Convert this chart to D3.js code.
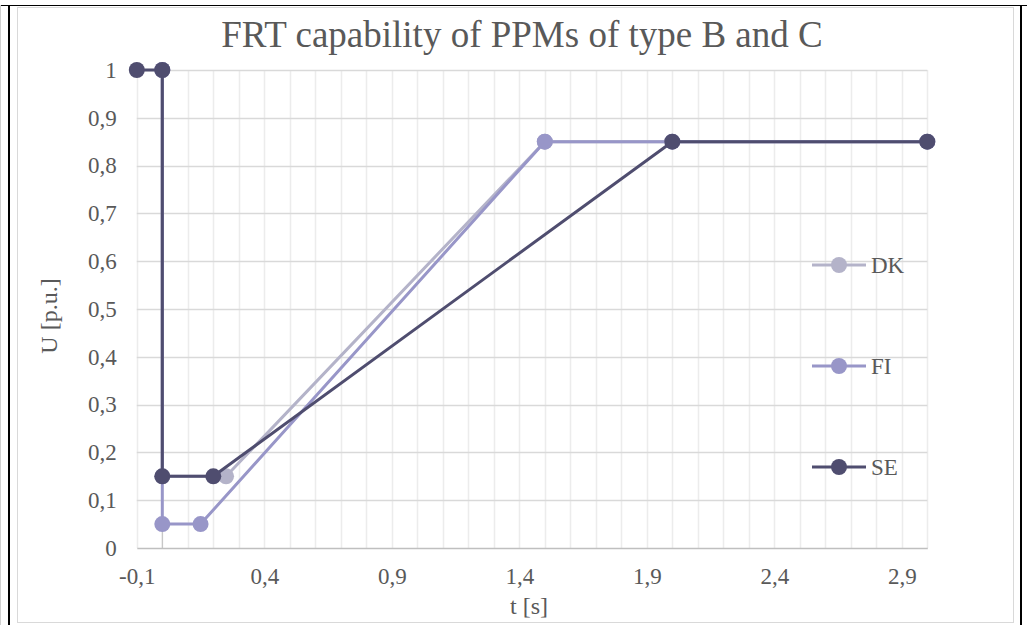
<!DOCTYPE html>
<meta charset="utf-8">
<script src="https://d3js.org/d3.v7.min.js"></script>
<style>
  body { margin: 0; background: #fff; }
  text { font-family: "Liberation Serif", "Times New Roman", serif; fill: #595959; }
</style>
<svg id="frt_chart" width="1027" height="625"></svg>
<script>

// series data, [t (s), U (p.u.)]
var seriesNames = ["DK", "FI", "SE"];
var dkPoints = [[0, 1], [0, 0.15], [0.25, 0.15], [1.5, 0.85], [3, 0.85]];
var fiPoints = [[0, 1], [0, 0.05], [0.15, 0.05], [1.5, 0.85], [2, 0.85], [3, 0.85]];
var sePoints = [[-0.1, 1], [0, 1], [0, 0.15], [0.2, 0.15], [2, 0.85], [3, 0.85]];
var xTickLabels = [-0.1, 0.4, 0.9, 1.4, 1.9, 2.4, 2.9];
var yTickLabels = [0, 0.1, 0.2, 0.3, 0.4, 0.5, 0.6, 0.7, 0.8, 0.9, 1];

var colors = {DK: "#b4b3c9", FI: "#9896c8", SE: "#4f4d6f"};
var allSeries = [
  {name: "DK", points: dkPoints},
  {name: "FI", points: fiPoints},
  {name: "SE", points: sePoints}
];

var svg = d3.select("#frt_chart");

// word table cell borders around the chart
svg.append("line").attr("x1", 0).attr("x2", 1027).attr("y1", 5.5).attr("y2", 5.5)
  .attr("stroke", "#000").attr("stroke-width", 1);
svg.append("line").attr("x1", 0.5).attr("x2", 0.5).attr("y1", 5).attr("y2", 625)
  .attr("stroke", "#d0d0d0").attr("stroke-width", 1);
svg.append("line").attr("x1", 9).attr("x2", 9).attr("y1", 5).attr("y2", 625)
  .attr("stroke", "#000").attr("stroke-width", 2);
svg.append("line").attr("x1", 1021).attr("x2", 1021).attr("y1", 5).attr("y2", 625)
  .attr("stroke", "#000").attr("stroke-width", 2);

// chart area border
svg.append("rect").attr("x", 17.5).attr("y", 7.5).attr("width", 996).attr("height", 615)
  .attr("fill", "#fff").attr("stroke", "#d9d9d9").attr("stroke-width", 1);

// scales
var x = d3.scaleLinear().domain([-0.1, 3.0]).range([136.8, 927.3]);
var y = d3.scaleLinear().domain([0, 1]).range([548, 70]);

// excel style labels: comma decimal, plain hyphen for minus
var fmt = function(v) { return d3.format(".1~f")(v).replace(".", ",").replace("\u2212", "-"); };

// gridlines: minor vertical every 0.1, horizontal every 0.1
var grid = svg.append("g");
grid.selectAll(".vgrid")
  .data(d3.range(0, 32).map(function(i) { return -0.1 + i * 0.1; }))
  .enter().append("line")
    .attr("x1", function(d) { return Math.round(x(d)) + 0.5; })
    .attr("x2", function(d) { return Math.round(x(d)) + 0.5; })
    .attr("y1", y(1)).attr("y2", y(0))
    .attr("stroke", "#ececec").attr("stroke-width", 1.5);
grid.selectAll(".hgrid")
  .data(yTickLabels.slice(1))
  .enter().append("line")
    .attr("x1", x(-0.1)).attr("x2", x(3.0))
    .attr("y1", function(d) { return Math.round(y(d)) + 0.5; })
    .attr("y2", function(d) { return Math.round(y(d)) + 0.5; })
    .attr("stroke", "#d9d9d9").attr("stroke-width", 1.5);

// vertical axis line crosses at t = 0
svg.append("line")
  .attr("x1", x(0)).attr("x2", x(0)).attr("y1", y(0)).attr("y2", y(1))
  .attr("stroke", "#bfbfbf").attr("stroke-width", 1);

// x axis
var xAxis = svg.append("g")
  .attr("transform", "translate(0," + y(0) + ")")
  .call(d3.axisBottom(x).tickValues(xTickLabels).tickSize(0).tickPadding(20).tickFormat(fmt));
xAxis.select(".domain").attr("stroke", "#bfbfbf").attr("stroke-width", 1.5);
xAxis.selectAll("text")
  .style("font-family", "Liberation Serif").style("font-size", "23px").attr("fill", "#595959");

// y axis (labels at low position)
var yAxis = svg.append("g")
  .attr("transform", "translate(" + x(-0.1) + ",0)")
  .call(d3.axisLeft(y).tickValues(yTickLabels).tickSize(0).tickPadding(20).tickFormat(fmt));
yAxis.select(".domain").remove();
yAxis.selectAll("text")
  .style("font-family", "Liberation Serif").style("font-size", "23px").attr("fill", "#595959");

// series lines and markers
var line = d3.line()
  .x(function(d) { return x(d[0]); })
  .y(function(d) { return y(d[1]); });

allSeries.forEach(function(s) {
  svg.append("path")
    .datum(s.points)
    .attr("fill", "none")
    .attr("stroke", colors[s.name])
    .attr("stroke-width", 3)
    .attr("stroke-linejoin", "round")
    .attr("d", line);
  svg.append("g").selectAll("circle")
    .data(s.points)
    .enter().append("circle")
      .attr("cx", function(d) { return x(d[0]); })
      .attr("cy", function(d) { return y(d[1]); })
      .attr("r", 8)
      .attr("fill", colors[s.name]);
});

// legend
var legendY = {DK: 265, FI: 366, SE: 467};
var legend = svg.append("g");
seriesNames.forEach(function(name) {
  var g = legend.append("g").attr("transform", "translate(812," + legendY[name] + ")");
  g.append("line").attr("x1", 0).attr("x2", 54).attr("y1", 0).attr("y2", 0)
    .attr("stroke", colors[name]).attr("stroke-width", 3);
  g.append("circle").attr("cx", 27).attr("cy", 0).attr("r", 8).attr("fill", colors[name]);
  g.append("text")
    .attr("x", 59).attr("y", 8)
    .style("font-size", "23px")
    .text(name);
});

// title and axis titles
svg.append("text")
  .attr("x", 522).attr("y", 47)
  .attr("text-anchor", "middle")
  .style("font-size", "37px")
  .text("FRT capability of PPMs of type B and C");

svg.append("text")
  .attr("x", 529).attr("y", 614)
  .attr("text-anchor", "middle")
  .style("font-size", "24px")
  .text("t [s]");

svg.append("text")
  .attr("transform", "translate(57,316) rotate(-90)")
  .attr("text-anchor", "middle")
  .style("font-size", "24px")
  .text("U [p.u.]");

</script>
